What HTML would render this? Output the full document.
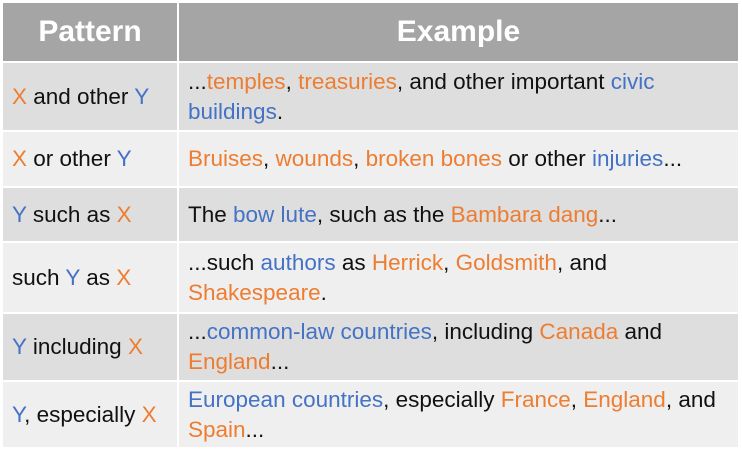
<!DOCTYPE html>
<html><head><meta charset="utf-8"><style>
body{margin:0;width:742px;height:450px;background:#fff;overflow:hidden;font-family:"Liberation Sans",sans-serif;}
.t{position:absolute;left:3px;top:3px;}
.r{position:absolute;left:0;width:735px;}
.c{position:absolute;top:0;bottom:0;display:flex;align-items:center;box-sizing:border-box;font-size:22.5px;line-height:30px;color:#111;white-space:nowrap;}
.c1{left:0;width:174px;padding-left:9px;}
.c2{left:176px;width:559px;padding-left:9px;}
.h .c{background:#a5a5a5;color:#fff;font-weight:bold;font-size:30px;justify-content:center;padding:0;}
.o{color:#ed7d31}.b{color:#4472c4}
.d .c{background:#dedede}.l .c{background:#efefef}
</style></head><body>
<div class="t">
<div class="r h" style="top:0;height:58px"><div class="c c1">Pattern</div><div class="c c2">Example</div></div>
<div class="r d" style="top:60px;height:67px"><div class="c c1"><span><span class="o">X</span> and other <span class="b">Y</span></span></div><div class="c c2"><span>...<span class="o">temples</span>, <span class="o">treasuries</span>, and other important <span class="b">civic</span><br><span class="b">buildings</span>.</span></div></div>
<div class="r l" style="top:129px;height:54px"><div class="c c1"><span><span class="o">X</span> or other <span class="b">Y</span></span></div><div class="c c2"><span><span class="o">Bruises</span>, <span class="o">wounds</span>, <span class="o">broken bones</span> or other <span class="b">injuries</span>...</span></div></div>
<div class="r d" style="top:185px;height:53px"><div class="c c1"><span><span class="b">Y</span> such as <span class="o">X</span></span></div><div class="c c2"><span>The <span class="b">bow lute</span>, such as the <span class="o">Bambara dang</span>...</span></div></div>
<div class="r l" style="top:240px;height:69px"><div class="c c1"><span>such <span class="b">Y</span> as <span class="o">X</span></span></div><div class="c c2"><span>...such <span class="b">authors</span> as <span class="o">Herrick</span>, <span class="o">Goldsmith</span>, and<br><span class="o">Shakespeare</span>.</span></div></div>
<div class="r d" style="top:311px;height:66px"><div class="c c1"><span><span class="b">Y</span> including <span class="o">X</span></span></div><div class="c c2"><span>...<span class="b">common-law countries</span>, including <span class="o">Canada</span> and<br><span class="o">England</span>...</span></div></div>
<div class="r l" style="top:379px;height:65px"><div class="c c1"><span><span class="b">Y</span>, especially <span class="o">X</span></span></div><div class="c c2"><span><span class="b">European countries</span>, especially <span class="o">France</span>, <span class="o">England</span>, and<br><span class="o">Spain</span>...</span></div></div>
</div>
</body></html>
